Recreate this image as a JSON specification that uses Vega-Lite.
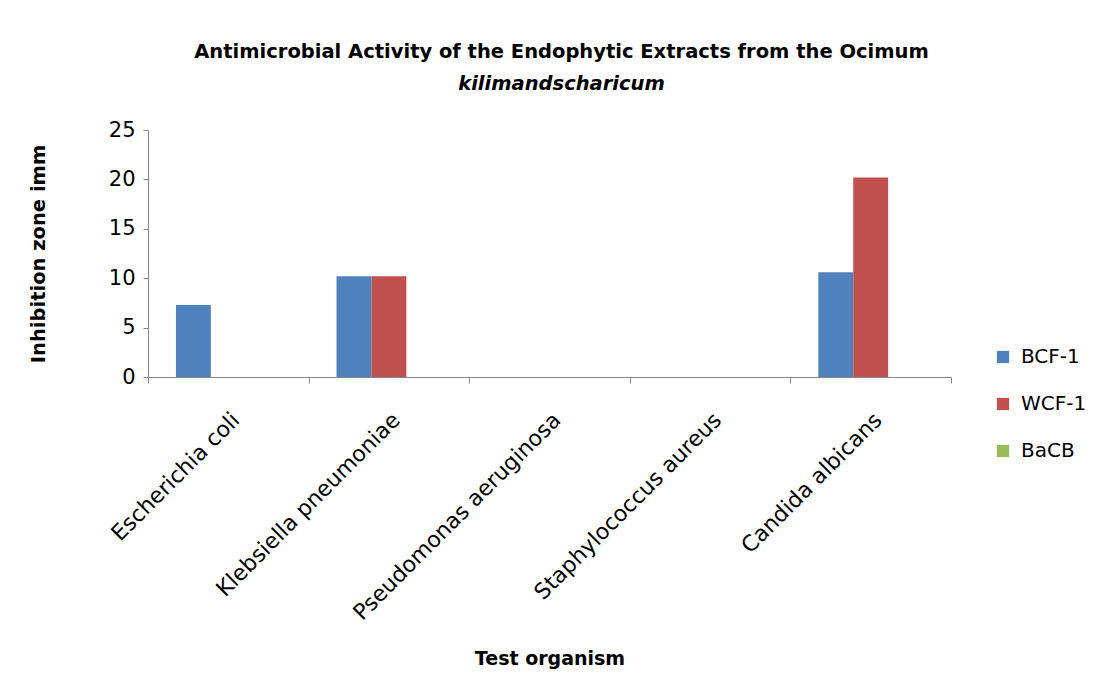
{
  "$schema": "https://vega.github.io/schema/vega-lite/v6.json",
  "width": 803,
  "height": 247,
  "autosize": {"type": "none"},
  "padding": {"left": 148, "top": 130, "right": 152, "bottom": 321},
  "background": "white",
  "title": {
    "text": "Antimicrobial Activity of the Endophytic Extracts from the Ocimum",
    "subtitle": "kilimandscharicum",
    "anchor": "middle",
    "frame": "group",
    "dx": 12,
    "offset": 25,
    "font": "DejaVu Sans",
    "fontSize": 19.5,
    "fontWeight": "bold",
    "color": "#000000",
    "subtitleFont": "DejaVu Sans",
    "subtitleFontSize": 19.5,
    "subtitleFontWeight": "bold",
    "subtitleFontStyle": "italic",
    "subtitleColor": "#000000",
    "subtitlePadding": 12
  },
  "data": {
    "values": [
      {"organism": "Escherichia coli", "extract": "BCF-1", "zone": 7.3},
      {"organism": "Escherichia coli", "extract": "WCF-1", "zone": 0},
      {"organism": "Escherichia coli", "extract": "BaCB", "zone": 0},
      {"organism": "Klebsiella pneumoniae", "extract": "BCF-1", "zone": 10.2},
      {"organism": "Klebsiella pneumoniae", "extract": "WCF-1", "zone": 10.2},
      {"organism": "Klebsiella pneumoniae", "extract": "BaCB", "zone": 0},
      {"organism": "Pseudomonas aeruginosa", "extract": "BCF-1", "zone": 0},
      {"organism": "Pseudomonas aeruginosa", "extract": "WCF-1", "zone": 0},
      {"organism": "Pseudomonas aeruginosa", "extract": "BaCB", "zone": 0},
      {"organism": "Staphylococcus aureus", "extract": "BCF-1", "zone": 0},
      {"organism": "Staphylococcus aureus", "extract": "WCF-1", "zone": 0},
      {"organism": "Staphylococcus aureus", "extract": "BaCB", "zone": 0},
      {"organism": "Candida albicans", "extract": "BCF-1", "zone": 10.6},
      {"organism": "Candida albicans", "extract": "WCF-1", "zone": 20.2},
      {"organism": "Candida albicans", "extract": "BaCB", "zone": 0}
    ]
  },
  "mark": {"type": "bar"},
  "encoding": {
    "x": {
      "field": "organism",
      "type": "nominal",
      "sort": null,
      "scale": {"paddingInner": 0, "paddingOuter": 0},
      "axis": {
        "title": "Test organism",
        "titleFont": "DejaVu Sans",
        "titleFontSize": 19,
        "titleFontWeight": "bold",
        "titleColor": "#000000",
        "titlePadding": 72,
        "labelAngle": -45,
        "labelFont": "DejaVu Sans",
        "labelFontSize": 22,
        "labelColor": "#000000",
        "labelPadding": 26,
        "labelLimit": 0,
        "tickBand": "extent",
        "tickSize": 6,
        "tickColor": "#868686",
        "domainColor": "#868686",
        "grid": false
      }
    },
    "xOffset": {
      "field": "extract",
      "type": "nominal",
      "sort": ["BCF-1", "WCF-1", "BaCB"],
      "scale": {"paddingInner": 0, "paddingOuter": 0.8}
    },
    "y": {
      "field": "zone",
      "type": "quantitative",
      "scale": {"domain": [0, 25], "nice": false},
      "axis": {
        "title": "Inhibition zone imm",
        "titleFont": "DejaVu Sans",
        "titleFontSize": 19.5,
        "titleFontWeight": "bold",
        "titleColor": "#000000",
        "titlePadding": 60,
        "values": [0, 5, 10, 15, 20, 25],
        "labelFont": "DejaVu Sans",
        "labelFontSize": 21,
        "labelColor": "#000000",
        "labelPadding": 8,
        "tickSize": 5,
        "tickColor": "#868686",
        "domainColor": "#868686",
        "grid": false
      }
    },
    "color": {
      "field": "extract",
      "type": "nominal",
      "sort": ["BCF-1", "WCF-1", "BaCB"],
      "scale": {"domain": ["BCF-1", "WCF-1", "BaCB"], "range": ["#4F81BD", "#C0504D", "#9BBB59"]},
      "legend": {
        "title": null,
        "orient": "none",
        "legendX": 845,
        "legendY": 217,
        "symbolType": "square",
        "symbolSize": 150,
        "symbolStrokeWidth": 0,
        "labelFont": "DejaVu Sans",
        "labelFontSize": 20,
        "labelColor": "#000000",
        "labelOffset": 8,
        "rowPadding": 27
      }
    }
  },
  "config": {
    "view": {"stroke": null}
  }
}
